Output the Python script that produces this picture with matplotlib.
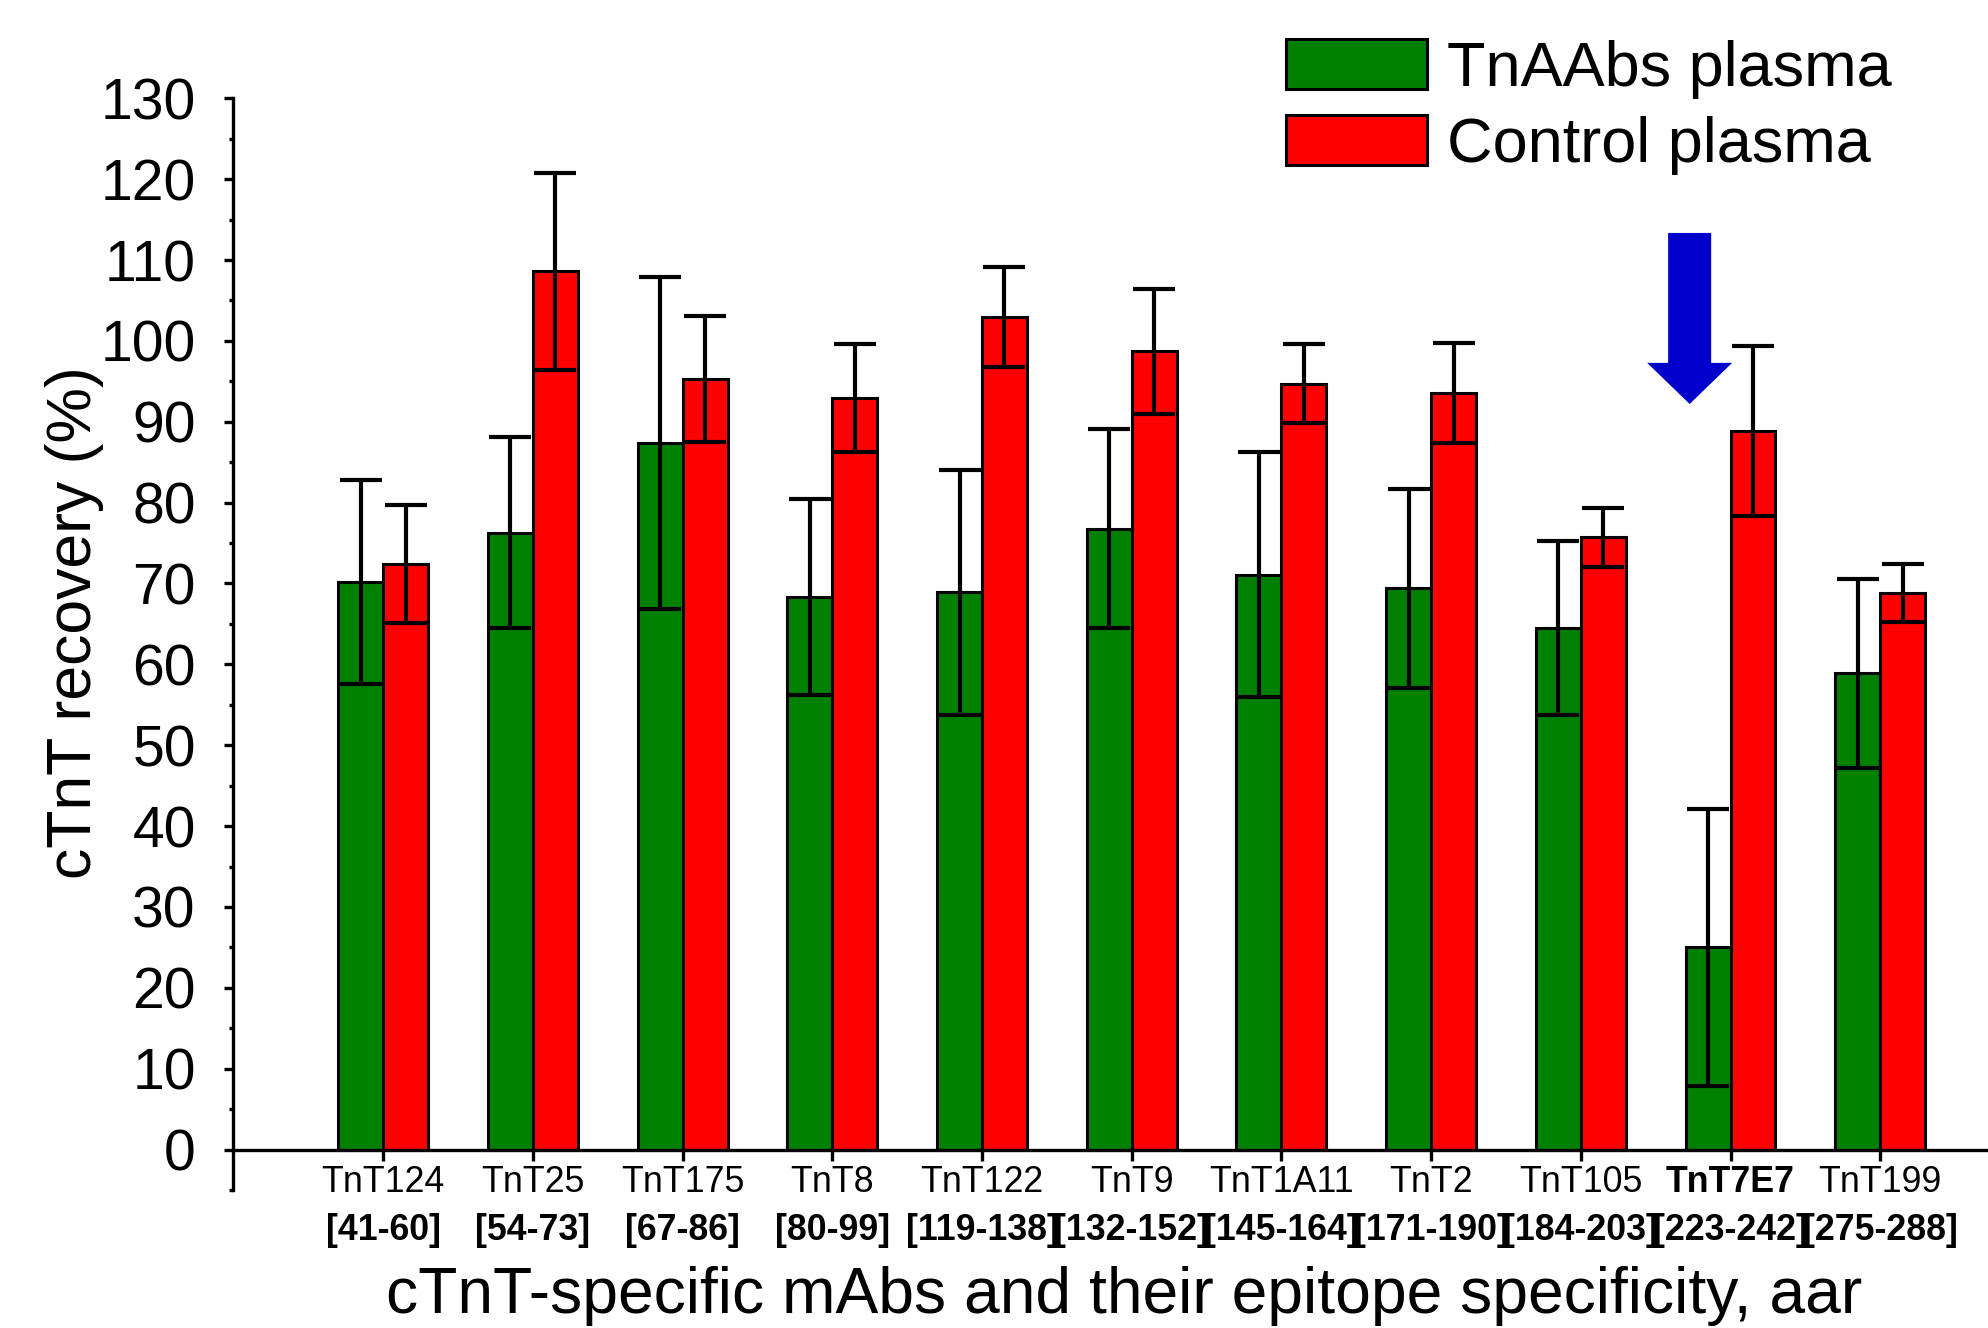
import matplotlib
matplotlib.use("Agg")
import matplotlib.pyplot as plt
import numpy as np
from matplotlib.ticker import MultipleLocator
from matplotlib.patches import FancyArrowPatch

plt.rcParams['font.family'] = ['Liberation Sans', 'DejaVu Sans']

# ---- data ----
mabs = ["TnT124", "TnT25", "TnT175", "TnT8", "TnT122", "TnT9",
        "TnT1A11", "TnT2", "TnT105", "TnT7E7", "TnT199"]
epitopes = ["[41-60]", "[54-73]", "[67-86]", "[80-99]", "[119-138]", "[132-152]",
            "[145-164]", "[171-190]", "[184-203]", "[223-242]", "[275-288]"]
tnaabs_mean = [70.2, 76.3, 87.4, 68.3, 68.9, 76.8, 71.1, 69.4, 64.5, 25.0, 58.9]
tnaabs_err = [12.6, 11.8, 20.5, 12.1, 15.1, 12.3, 15.1, 12.3, 10.7, 17.1, 11.7]
control_mean = [72.4, 108.6, 95.3, 92.9, 103.0, 98.7, 94.7, 93.6, 75.7, 88.9, 68.8]
control_err = [7.3, 12.2, 7.8, 6.7, 6.2, 7.7, 4.9, 6.2, 3.6, 10.5, 3.6]
highlight = "TnT7E7"

series_labels = ["TnAAbs plasma", "Control plasma"]
colors = ["#008000", "#FF0000"]

# ---- figure ----
W, H, DPI = 1988, 1328, 200
fig = plt.figure(figsize=(W / DPI, H / DPI), dpi=DPI)
ax = fig.add_axes([0.11745, 0.10392, 0.88255, 0.82206])

x = np.arange(len(mabs))
bw = 0.3
err_kw = dict(ecolor="black", elinewidth=1.5, capsize=7.4, capthick=1.5)
ax.bar(x - bw / 2, tnaabs_mean, bw, yerr=tnaabs_err, color=colors[0],
       edgecolor="black", linewidth=1.1, label=series_labels[0], error_kw=err_kw, zorder=2)
ax.bar(x + bw / 2, control_mean, bw, yerr=control_err, color=colors[1],
       edgecolor="black", linewidth=1.1, label=series_labels[1], error_kw=err_kw, zorder=2)

ax.set_xlim(-1.0, 10.72)
ax.set_ylim(-5, 130)
ax.spines['top'].set_visible(False)
ax.spines['right'].set_visible(False)
ax.spines['bottom'].set_position(('data', 0))
for s in ('left', 'bottom'):
    ax.spines[s].set_linewidth(1.2)

ax.yaxis.set_major_locator(MultipleLocator(10))
ax.yaxis.set_minor_locator(MultipleLocator(5))
ax.set_yticks(np.arange(0, 131, 10))
ax.tick_params(axis='y', which='major', direction='out', length=3.2, width=1.2,
               labelsize=20.5, pad=10.4)
ax.tick_params(axis='y', which='minor', direction='out', length=1.6, width=1.2)
ax.set_xticks(x)
ax.set_xticklabels([])
ax.tick_params(axis='x', which='major', direction='out', length=4.0, width=1.2)

# x tick labels: two rows
for i, (m, ep) in enumerate(zip(mabs, epitopes)):
    ax.text(i, -5.19, m, ha='center', va='baseline', fontsize=12.9,
            fontweight='bold' if m == highlight else 'normal', clip_on=False)
    ax.text(i, -11.13, ep, ha='center', va='baseline', fontsize=12.9,
            fontweight='bold', clip_on=False)

# axis labels
fig.text(0.0377, 0.5312, "cTnT recovery (%)", rotation=90, ha='center', va='center',
         fontsize=22.5)
fig.text(0.5656, 0.0113, "cTnT-specific mAbs and their epitope specificity, aar",
         ha='center', va='baseline', fontsize=23.1)

# highlight arrow
hi = mabs.index(highlight)
arrow = FancyArrowPatch((hi - 0.273, 113.35), (hi - 0.273, 92.2),
                        arrowstyle="simple,head_width=30.6,head_length=14.8,tail_width=15.5",
                        mutation_scale=1, color="#0000CC", shrinkA=0, shrinkB=0,
                        linewidth=0, zorder=3)
ax.add_patch(arrow)

# legend
leg = ax.legend(loc='upper left', bbox_to_anchor=(1286 / W, 1 - 39 / H),
                bbox_transform=fig.transFigure, frameon=False, fontsize=22.7,
                handlelength=2.24, handleheight=0.84, handletextpad=0.31,
                labelspacing=0.26, borderpad=0.0, borderaxespad=0.0)

fig.savefig("out.png", dpi=DPI)
